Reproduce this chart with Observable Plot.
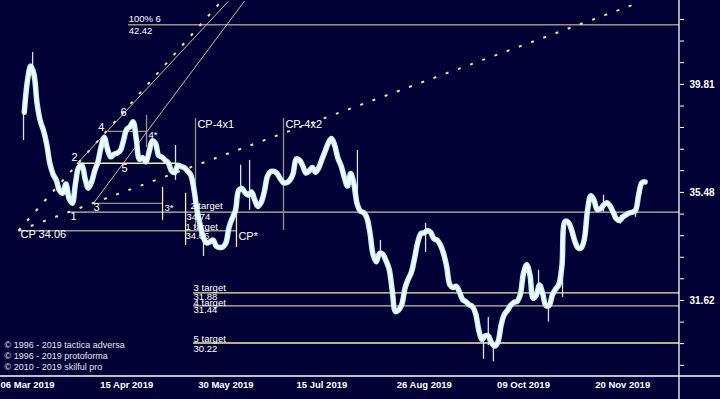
<!DOCTYPE html>
<html><head><meta charset="utf-8">
<script src="https://cdn.jsdelivr.net/npm/d3@7"></script>
<script src="https://cdn.jsdelivr.net/npm/@observablehq/plot@0.6"></script>
<style>
html,body{margin:0;padding:0;background:#020236;}
#chart{width:720px;height:399px;overflow:hidden;}
</style></head><body><div id="chart"></div>
<script>
// ---- data ----
const firstBar = -1;
const closes = [38.64,39.98,40.60,40.25,39.00,38.28,37.90,37.35,36.58,36.17,35.95,35.55,35.45,35.80,35.25,35.07,
35.83,36.44,36.52,36.00,35.64,35.87,36.30,36.65,37.25,37.62,37.15,36.85,36.95,37.00,37.10,37.50,37.95,38.05,38.25,
37.55,36.75,36.82,36.65,37.05,37.48,37.38,36.90,36.84,36.72,36.61,36.30,36.24,36.52,36.47,36.43,36.30,36.15,35.60,
34.80,34.25,33.80,33.62,33.66,33.72,33.50,33.46,33.47,33.62,34.20,34.52,34.81,35.56,35.63,35.47,35.37,35.50,35.20,
34.95,35.10,35.50,36.10,36.28,36.28,36.20,36.00,35.85,35.85,35.95,36.20,36.77,36.72,36.50,36.22,36.30,36.43,36.25,
36.42,36.75,37.07,37.40,37.58,37.30,36.80,36.50,36.05,35.72,36.20,35.80,35.05,34.78,34.73,34.55,34.00,33.20,32.95,
33.25,33.22,33.00,32.70,31.95,31.25,31.30,31.50,32.05,32.35,32.60,33.10,33.66,33.96,33.98,34.07,34.00,33.77,33.72,
33.55,33.25,32.78,32.15,32.06,32.10,31.90,31.65,31.58,31.48,31.42,31.20,30.65,30.33,30.45,30.45,30.23,30.12,30.25,
30.80,31.15,31.29,31.46,31.56,31.59,31.82,32.55,32.85,32.50,31.70,31.80,32.15,31.85,31.45,31.45,31.80,32.00,32.15,
32.80,34.40,34.37,34.10,33.70,33.45,33.44,33.75,34.80,35.35,35.20,34.84,34.86,35.00,35.09,34.98,34.75,34.50,34.43,
34.56,34.64,34.71,34.74,34.81,35.40,35.85,35.88];

const wickBars  = [-1.25, 1.6, 46.25, 55, 66.6, 69.4, 103.1, 110.3, 124.4, 142.5, 144, 145.6, 159.7, 162.8, 167.2, 180, 185.3, 190];
const wickHigh  = [39.14, 41.18, 37.30, 33.96, 36.52, 36.71, 37.10, 33.71, 34.33, 30.40, 31.05, 30.14, 32.65, 31.50, 32.48, 35.37, 34.62, 34.92];
const wickLow   = [37.50, 40.19, 35.94, 33.14, 35.56, 34.81, 34.81, 33.18, 33.28, 29.70, 30.14, 29.62, 32.06, 30.90, 31.72, 34.74, 34.30, 34.55];

const xTickBars   = [0, 31, 62, 92, 124, 155, 186];
const xTickLabels = ["06 Mar 2019", "15 Apr 2019", "30 May 2019", "15 Jul 2019", "26 Aug 2019", "09 Oct 2019", "20 Nov 2019"];
const yMajorTicks = [31.62, 35.48, 39.81];
const yMinorTicks = [29.51, 30.20, 30.90, 31.62, 32.36, 33.11, 33.88, 34.67, 35.48, 36.31, 37.15, 38.02, 38.90, 39.81, 40.74, 41.69, 42.66];
const xDomain = [-8.44, 203.75];
const yDomain = [29.16, 43.53];

// horizontal levels
const levelPrices  = [42.42, 34.74, 34.06, 35.07, 36.60, 37.86, 31.88, 31.44, 30.22];
const levelFromBar = [31.6, 12.8, -2.8, 20.3, 15.6, 25.3, 51.9, 51.9, 51.9];
const levelToBar   = [null, null, 65.3, 42.5, 46.9, 37.2, null, null, null];
const levelKinds   = ["grey", "beige", "grey", "grey", "yellow", "grey", "yellow", "beige", "yellow"];

// vertical markers
const vBars   = [52.5, 80.0, 65.3, 42.2, 49.4, 37.2];
const vTop    = [38.39, 38.39, 34.92, 35.67, 35.45, 38.51];
const vBottom = [34.14, 34.07, 33.46, 34.44, 33.53, 37.22];
const vKinds  = ["grey", "grey", "yellow", "yellow", "yellow", "grey"];

// sloped lines
const slopeFromBar   = [-2.8, -2.8, 15.6, 20.6];
const slopeFromPrice = [34.07, 34.07, 36.60, 35.07];
const slopeToBar     = [190.3, 60.6, 62.8, 67.8];
const slopeToPrice   = [43.39, 43.50, 43.50, 43.50];
const slopeDotted    = [true, true, false, false];

// annotation texts
const annotTexts  = ["100% 6","42.42","CP 34.06","3*","4*","CP-4x1","CP-4x2","CP*","2 target","34.74","1 target","34.06","3 target","31.88","4 target","31.44","5 target","30.22"];
const annotBars   = [31.6, 31.6, -2.2, 42.8, 37.8, 53.1, 80.6, 65.9, 50.9, 49.7, 49.4, 49.4, 51.9, 51.9, 51.9, 51.9, 51.9, 51.9];
const annotPrices = [42.66, 42.13, 33.93, 34.88, 37.70, 38.15, 38.15, 33.86, 34.97, 34.57, 34.20, 33.86, 32.03, 31.74, 31.54, 31.29, 30.36, 30.04];
const annotSizes  = ["m", "m", "l", "m", "m", "l", "l", "l", "m", "m", "m", "m", "m", "m", "m", "m", "m", "m"];

const waveLabels = ["1","2","3","4","5","6"];
const waveBars   = [14.4, 14.7, 21.6, 23.1, 30.3, 30.0];
const wavePrices = [34.59, 36.83, 34.92, 38.03, 36.40, 38.64];

const copyrightLines = ["© 1996 - 2019 tactica adversa", "© 1996 - 2019 protoforma", "© 2010 - 2019 skilful pro"];

// ---- build ----
const palette = {grey: "#9b9485", beige: "#c9bea2", yellow: "#f6eca2"};
const series = closes.map((c, i) => ({bar: firstBar + i, close: c}));
const wicks = wickBars.map((b, i) => ({bar: b, hi: wickHigh[i], lo: wickLow[i]}));
const levels = levelPrices.map((p, i) => ({price: p, x1: levelFromBar[i], x2: levelToBar[i] ?? xDomain[1], color: palette[levelKinds[i]]}));
const verts = vBars.map((b, i) => ({bar: b, y1: vTop[i], y2: vBottom[i], color: palette[vKinds[i]]}));
const slopes = slopeFromBar.map((b, i) => ({x1: b, y1: slopeFromPrice[i], x2: slopeToBar[i], y2: slopeToPrice[i], dotted: slopeDotted[i]}));
const annots = annotTexts.map((t, i) => ({text: t, bar: annotBars[i], price: annotPrices[i], size: annotSizes[i]}));
const waves = waveLabels.map((t, i) => ({text: t, bar: waveBars[i], price: wavePrices[i]}));

const font = "Liberation Sans, Arial, sans-serif";

const chart = Plot.plot({
  width: 720, height: 399,
  marginLeft: 0, marginRight: 41, marginTop: 0, marginBottom: 23,
  style: {background: "#020236", color: "#ffffff", fontFamily: font, overflow: "visible"},
  x: {domain: xDomain},
  y: {type: "log", domain: yDomain},
  color: {type: "identity"},
  marks: [
    Plot.ruleY(levels, {y: "price", x1: "x1", x2: "x2", stroke: "color", strokeWidth: 1.3}),
    Plot.ruleX(verts, {x: "bar", y1: "y1", y2: "y2", stroke: "color", strokeWidth: 1.3}),
    Plot.link(slopes.filter(d => !d.dotted), {x1: "x1", y1: "y1", x2: "x2", y2: "y2", stroke: "#cbbd9c", strokeWidth: 1}),
    Plot.link(slopes.filter(d => d.dotted), {x1: "x1", y1: "y1", x2: "x2", y2: "y2", stroke: "#f0df98", strokeWidth: 2, strokeDasharray: "3,10"}),
    Plot.ruleX(wicks, {x: "bar", y1: "lo", y2: "hi", stroke: "#d8e4ea", strokeWidth: 1.3}),
    Plot.line(series, {x: "bar", y: "close", stroke: "#c6f0f6", strokeWidth: 5.5, curve: "catmull-rom", strokeLinejoin: "round"}),
    Plot.line(series, {x: "bar", y: "close", stroke: "#f4feff", strokeWidth: 2.8, curve: "catmull-rom", strokeLinejoin: "round"}),
    Plot.text(annots.filter(d => d.size === "l"), {x: "bar", y: "price", text: "text", textAnchor: "start", fill: "#ffffff", fontSize: 11}),
    Plot.text(annots.filter(d => d.size === "m"), {x: "bar", y: "price", text: "text", textAnchor: "start", fill: "#ffffff", fontSize: 9.5}),
    Plot.text(waves, {x: "bar", y: "price", text: "text", textAnchor: "middle", fill: "#ffffff", fontSize: 11}),
    Plot.text([copyrightLines.join("\n")], {frameAnchor: "bottom-left", lineAnchor: "bottom", textAnchor: "start", dx: 4, dy: -7, lineHeight: 1.18, fontSize: 9, fill: "#e4e4ee"}),
    Plot.axisX(xTickBars, {anchor: "bottom", tickSize: 0, tickPadding: 5, tickFormat: d => xTickLabels[xTickBars.indexOf(d)], fill: "#ffffff", fontWeight: "bold", fontSize: 9.5, label: null}),
    Plot.axisY(yMajorTicks, {anchor: "right", tickSize: 8, tickPadding: 2, stroke: "#000000", tickFormat: d => d.toFixed(2), fill: "#ffffff", fontWeight: "bold", fontSize: 10, label: null}),
    Plot.axisY(yMinorTicks, {anchor: "right", tickSize: 4, stroke: "#ffffff", tickFormat: () => "", label: null})
  ]
});

// axis lines spanning the full canvas, placed from the plot's scales
const sx = chart.scale("x"), sy = chart.scale("y");
const xr = sx.range[1], yb = sy.range[0];
const svg = d3.select(chart);
svg.append("line").attr("x1", xr).attr("x2", xr).attr("y1", 0).attr("y2", 399).attr("stroke", "#ffffff").attr("stroke-width", 1.3);
svg.append("line").attr("x1", 0).attr("x2", 720).attr("y1", yb).attr("y2", yb).attr("stroke", "#ffffff").attr("stroke-width", 1.3);

document.getElementById("chart").appendChild(chart);
</script>
</body></html>
